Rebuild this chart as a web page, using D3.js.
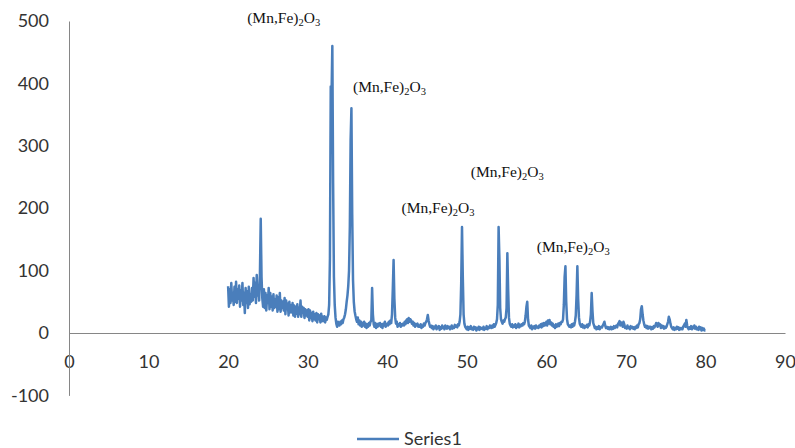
<!DOCTYPE html>
<html>
<head>
<meta charset="utf-8">
<script src="https://cdn.jsdelivr.net/npm/d3@7"></script>
<style>
  body { margin: 0; background: #fff; }
  .axis path { stroke: #868686; stroke-width: 1; }
  .axis text { font-family: Lato, "Open Sans", sans-serif; font-size: 18px; fill: #333; }
  .line1 { fill: none; stroke: #4a7ebb; stroke-width: 2.5; stroke-linejoin: round; }
  .peakLabel { font-family: "Liberation Serif", "Times New Roman", serif; font-size: 15.5px; fill: #111; }
  .legendText { font-family: Lato, "Open Sans", sans-serif; font-size: 18px; fill: #333; }
</style>
</head>
<body>
<div id="graph"></div>
<script>

// 2-theta grid of the scan (degrees)
var angleStart = 20,
    angleStep = 0.1;

// intensity, one row per degree (20.0 ... 80.0)
var intensity = [
    75,42,70,48,80,52,64,45,74,50,      // 20
    82,48,70,55,76,42,68,52,80,45,      // 21
    64,32,72,48,67,40,74,46,62,50,      // 22
    72,52,88,58,80,48,93,60,72,52,      // 23
    95,183,90,55,42,70,40,64,36,60,     // 24
    48,72,38,64,42,58,36,62,40,54,      // 25
    42,60,34,57,38,64,34,52,40,50,      // 26
    36,56,30,52,38,47,28,50,33,44,      // 27
    33,48,28,44,26,42,31,46,26,40,      // 28
    30,52,26,42,33,40,24,38,28,36,      // 29
    26,38,20,36,24,32,19,34,22,30,      // 30
    20,32,17,30,22,28,17,31,19,26,      // 31
    19,27,17,25,21,26,30,45,120,395,    // 32
    380,460,240,90,45,25,15,10,18,14,   // 33
    12,18,14,20,16,22,25,30,38,50,      // 34
    60,75,100,170,310,360,190,85,50,35, // 35
    28,22,18,25,14,20,12,18,10,16,      // 36
    12,18,10,15,8,14,10,16,12,18,       // 37
    20,72,30,14,10,16,8,14,10,15,       // 38
    12,16,10,14,8,15,12,18,10,14,       // 39
    15,12,18,14,20,16,30,70,117,55,     // 40
    25,15,18,10,14,12,16,10,14,12,      // 41
    15,12,18,14,20,22,16,24,18,22,      // 42
    20,15,18,12,16,10,14,12,15,10,      // 43
    12,10,14,8,12,10,15,12,16,18,       // 44
    22,29,20,14,10,12,8,11,6,10,        // 45
    8,12,6,10,8,11,5,9,7,12,            // 46
    8,10,6,12,9,7,11,8,10,6,            // 47
    9,12,7,10,8,13,10,12,9,14,          // 48
    12,18,30,80,170,90,30,15,10,8,      // 49
    6,10,5,9,7,11,6,8,5,10,             // 50
    7,9,4,8,6,10,5,9,7,8,               // 51
    6,10,5,8,7,11,6,9,8,12,             // 52
    10,8,12,9,14,10,13,16,22,45,        // 53
    170,120,40,22,18,15,20,18,22,25,    // 54
    40,128,70,25,15,12,10,14,9,12,      // 55
    10,14,8,12,10,15,9,13,11,14,        // 56
    12,16,14,18,28,42,50,22,12,10,      // 57
    8,12,6,10,8,11,7,12,9,10,           // 58
    8,12,10,14,9,15,11,16,12,14,        // 59
    18,12,20,15,21,14,17,12,15,10,      // 60
    12,8,14,10,12,15,11,16,14,18,       // 61
    18,22,45,90,107,50,22,14,12,10,     // 62
    12,9,14,10,15,12,18,28,60,107,      // 63
    55,25,15,12,10,14,9,12,8,11,        // 64
    10,13,9,14,12,18,30,64,35,16,       // 65
    12,8,10,6,9,7,11,6,8,10,            // 66
    9,12,15,18,12,8,10,7,9,6,           // 67
    8,10,6,9,7,11,8,10,12,9,            // 68
    14,16,19,12,17,15,10,18,14,8,       // 69
    10,7,12,8,9,6,11,8,10,7,            // 70
    9,6,10,8,12,9,14,16,22,38,          // 71
    43,30,20,14,10,12,8,11,7,10,        // 72
    8,10,6,9,7,11,9,12,16,14,           // 73
    10,16,12,14,8,12,9,11,7,10,         // 74
    8,10,14,18,26,22,15,10,8,6,         // 75
    9,5,8,6,10,7,9,5,8,6,               // 76
    8,6,10,12,15,10,21,12,8,6,          // 77
    9,7,11,6,10,8,12,7,10,6,            // 78
    8,5,10,6,9,4,8,5,7,4,               // 79
    4                                   // 80
];

// axis ticks
var xTicks = [0,10,20,30,40,50,60,70,80,90],
    yTicks = [-100,0,100,200,300,400,500];

// phase labels: angle / intensity where each label sits
var peakLabels = ["(Mn,Fe)2O3","(Mn,Fe)2O3","(Mn,Fe)2O3","(Mn,Fe)2O3","(Mn,Fe)2O3"],
    labelAngle = [22.4, 35.7, 41.8, 50.5, 58.8],
    labelValue = [497, 386, 193, 250, 130];

var seriesName = "Series1";

function drawGraph(){

    var width = 795, height = 448;

    var svg = d3.select("#graph").append("svg")
        .attr("width", width)
        .attr("height", height);

    // Set X
    var xScale = d3.scaleLinear()
        .domain([0, 90])
        .range([69, 785]);

    // Set Y
    var yScale = d3.scaleLinear()
        .domain([-100, 500])
        .range([395.4, 21]);

    var dataset = intensity.map(function(v, i){
        return { angle: angleStart + i * angleStep, count: v };
    });

    // plain hyphen for negatives, like the original
    var plain = function(d) { return String(d); };

    // x axis sits on the zero line
    svg.append("g")
        .attr("class", "x axis")
        .attr("transform", "translate(0," + yScale(0) + ")")
        .call(d3.axisBottom(xScale).tickValues(xTicks).tickFormat(plain).tickSize(0).tickPadding(22));

    svg.append("g")
        .attr("class", "y axis")
        .attr("transform", "translate(" + xScale(0) + ",0)")
        .call(d3.axisLeft(yScale).tickValues(yTicks).tickFormat(plain).tickSize(0).tickPadding(20));

    var line = d3.line()
        .x(function(d) { return xScale(d.angle); })
        .y(function(d) { return yScale(d.count); })
        .curve(d3.curveLinear);

    svg.append("path")
        .datum(dataset)
        .attr("class", "line1")
        .attr("d", line);

    // peak labels with subscripts
    peakLabels.forEach(function(lbl, i){
        var t = svg.append("text")
            .attr("class", "peakLabel")
            .attr("x", xScale(labelAngle[i]))
            .attr("y", yScale(labelValue[i]));
        var m = lbl.match(/^(.*)(\d)(O)(\d)$/);
        t.append("tspan").text(m[1]);
        t.append("tspan").attr("font-size", "10.5px").attr("dy", 3).text(m[2]);
        t.append("tspan").attr("dy", -3).text(m[3]);
        t.append("tspan").attr("font-size", "10.5px").attr("dy", 3).text(m[4]);
    });

    // legend
    var legend = svg.append("g").attr("transform", "translate(357,439)");
    legend.append("line")
        .attr("x1", 0).attr("x2", 42)
        .attr("y1", 0).attr("y2", 0)
        .attr("stroke", "#4a7ebb")
        .attr("stroke-width", 2.5);
    legend.append("text")
        .attr("class", "legendText")
        .attr("x", 47)
        .attr("y", 0)
        .attr("dy", "0.35em")
        .text(seriesName);
}

drawGraph();
</script>
</body>
</html>
